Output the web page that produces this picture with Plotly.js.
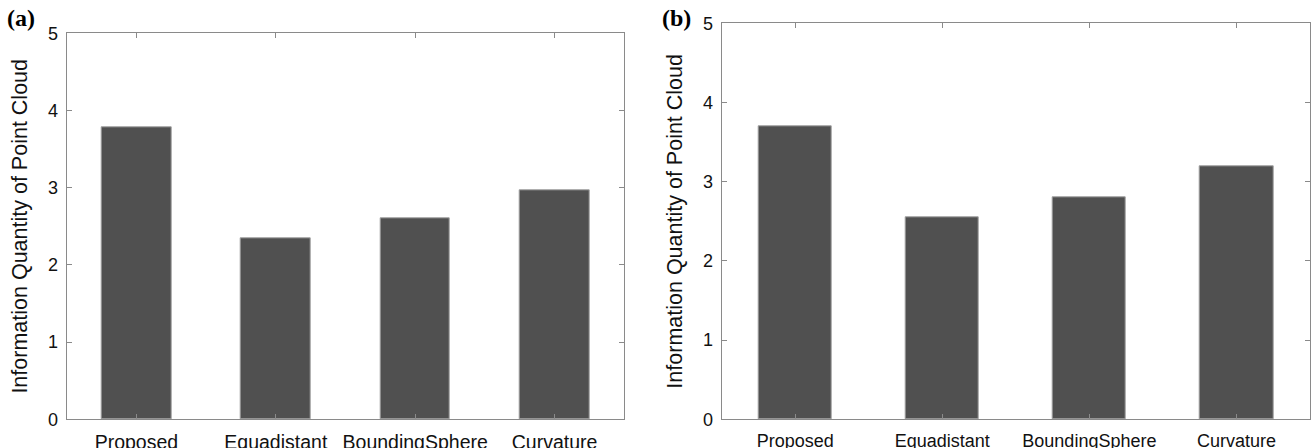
<!DOCTYPE html>
<html>
<head>
<meta charset="utf-8">
<script src="https://cdn.plot.ly/plotly-3.0.1.min.js"></script>
<style>html,body{margin:0;padding:0;background:#fff;}#chart{width:1312px;height:448px;}</style>
</head>
<body>
<div id="chart"></div>
<script>
const categories = ["Proposed", "Equadistant", "BoundingSphere", "Curvature"];
const positions = [1, 2, 3, 4];
const valuesA = [3.78, 2.35, 2.60, 2.96];
const valuesB = [3.70, 2.55, 2.80, 3.19];
const yTicks = [0, 1, 2, 3, 4, 5];
const yTitle = "Information Quantity of Point Cloud";
const panelLabels = ["(a)", "(b)"];

const W = 1312, H = 448;
const barColor = "#505050", edgeColor = "#a0a0a0", axisColor = "#8a8a8a", textColor = "#111";

function bar(vals, xa, ya) {
  return {type: "bar", x: positions, y: vals, width: 0.5, xaxis: xa, yaxis: ya,
    marker: {color: barColor, line: {color: edgeColor, width: 1}}, hoverinfo: "x+y", showlegend: false};
}
function xax(dom, fs, anchor) {
  return {domain: dom, anchor: anchor, range: [0.5, 4.5], tickvals: positions, ticktext: categories,
    showline: true, mirror: "ticks", linecolor: axisColor, linewidth: 1.3, ticks: "inside", ticklen: 5,
    tickcolor: axisColor, tickwidth: 1, showgrid: false, zeroline: false, ticklabelstandoff: 5,
    tickfont: {family: "Liberation Sans, Arial, sans-serif", size: fs, color: textColor}, fixedrange: true};
}
function yax(dom, anchor) {
  return {domain: dom, anchor: anchor, range: [0, 5], tickvals: yTicks, showline: true, mirror: "ticks",
    linecolor: axisColor, linewidth: 1.3, ticks: "inside", ticklen: 5, tickcolor: axisColor, tickwidth: 1,
    showgrid: false, zeroline: false, ticklabelstandoff: 4,
    tickfont: {family: "Liberation Sans, Arial, sans-serif", size: 18, color: textColor},
    title: {text: yTitle, standoff: 14, font: {family: "Liberation Sans, Arial, sans-serif", size: 21.5, color: textColor}},
    fixedrange: true};
}
const data = [bar(valuesA, "x", "y"), bar(valuesB, "x2", "y2")];
const layout = {
  width: W, height: H, margin: {l: 0, r: 0, t: 0, b: 0, pad: 0},
  paper_bgcolor: "#fff", plot_bgcolor: "#fff", bargap: 0,
  xaxis: xax([66.7 / W, 624.3 / W], 19.5, "y"),
  yaxis: yax([1 - 419.3 / H, 1 - 33.3 / H], "x"),
  xaxis2: xax([721.7 / W, 1310 / W], 18, "y2"),
  yaxis2: yax([1 - 419.3 / H, 1 - 23.3 / H], "x2"),
  annotations: [
    {text: panelLabels[0], xref: "paper", yref: "paper", x: 5 / W, y: 1 - 18 / H, xanchor: "left", yanchor: "middle",
      showarrow: false, font: {family: "Liberation Serif, Times New Roman, serif", size: 24, color: "#000", weight: "bold"}},
    {text: panelLabels[1], xref: "paper", yref: "paper", x: 660 / W, y: 1 - 18 / H, xanchor: "left", yanchor: "middle",
      showarrow: false, font: {family: "Liberation Serif, Times New Roman, serif", size: 24, color: "#000", weight: "bold"}}
  ]
};
Plotly.newPlot("chart", data, layout, {displayModeBar: false});
</script>
</body>
</html>
